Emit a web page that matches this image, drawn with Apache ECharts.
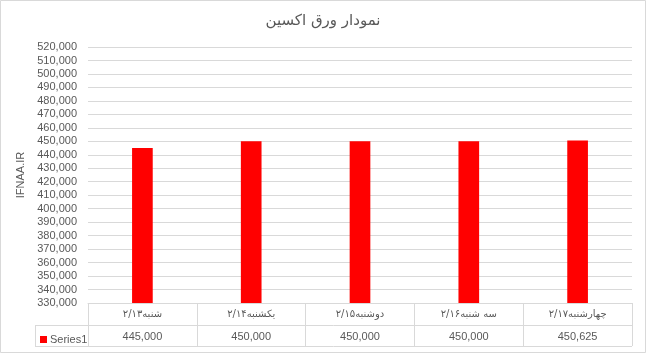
<!DOCTYPE html>
<html>
<head>
<meta charset="utf-8">
<script src="https://cdn.jsdelivr.net/npm/echarts@6/dist/echarts.min.js"></script>
<style>
html,body{margin:0;padding:0;background:#fff;}
#c{width:646px;height:353px;}
</style>
</head>
<body>
<div id="c"></div>
<script>
const titleText = 'نمودار ورق اکسین';
const axisName = 'IFNAA.IR';
const seriesName = 'Series1';
const categories = ['شنبه۲/۱۳', 'یکشنبه۲/۱۴', 'دوشنبه۲/۱۵', 'سه شنبه۲/۱۶', 'چهارشنبه۲/۱۷'];
const values = [445000, 450000, 450000, 450000, 450625];
const yMin = 330000, yMax = 520000, yStep = 10000;

const fmt = v => v.toLocaleString('en-US');
const grey = '#595959';
const lineC = '#d9d9d9';
const latin = '"Liberation Sans", Arial, sans-serif';
const arab = '"DejaVu Sans", sans-serif';

const chart = echarts.init(document.getElementById('c'), null, {renderer: 'canvas'});
chart.setOption({
  animation: false,
  backgroundColor: '#fff',
  title: {
    text: titleText, left: 'center', top: 9,
    textStyle: {fontFamily: arab, fontSize: 15, fontWeight: 'normal', color: grey}
  },
  legend: {
    data: [seriesName], left: 35, top: 329, icon: 'rect',
    itemWidth: 7, itemHeight: 7, itemGap: 3,
    textStyle: {fontFamily: latin, fontSize: 11, color: grey, padding: [0,0,0,-2]}
  },
  grid: {left: 88, right: 14, top: 47, bottom: 50, containLabel: false},
  xAxis: [{
    type: 'category', data: categories, position: 'bottom',
    axisLine: {show: true, lineStyle: {color: lineC}},
    axisTick: {show: true, length: 43, lineStyle: {color: lineC}},
    axisLabel: {fontFamily: arab, fontSize: 10, color: grey, margin: 6, interval: 0}
  }, {
    type: 'category', data: values.map(fmt), position: 'bottom', offset: 22,
    axisLine: {show: false}, axisTick: {show: false},
    axisLabel: {fontFamily: latin, fontSize: 11, color: grey, margin: 6, interval: 0}
  }],
  yAxis: {
    type: 'value', min: yMin, max: yMax, interval: yStep,
    name: axisName, nameLocation: 'middle', nameGap: 62, nameRotate: 90,
    nameTextStyle: {fontFamily: latin, fontSize: 11, color: grey},
    axisLine: {show: false}, axisTick: {show: false},
    axisLabel: {fontFamily: latin, fontSize: 11, color: grey, margin: 11, formatter: v => fmt(v)},
    splitLine: {lineStyle: {color: lineC}}
  },
  series: [{
    name: seriesName, type: 'bar', data: values, xAxisIndex: 0,
    barWidth: '19%', itemStyle: {color: '#ff0000'}
  }],
  graphic: [
    {type: 'line', shape: {x1: 35, y1: 325.5, x2: 632, y2: 325.5}, style: {stroke: lineC, lineWidth: 1}},
    {type: 'line', shape: {x1: 35, y1: 346.5, x2: 632, y2: 346.5}, style: {stroke: lineC, lineWidth: 1}},
    {type: 'line', shape: {x1: 35.5, y1: 325, x2: 35.5, y2: 347}, style: {stroke: lineC, lineWidth: 1}},
    {type: 'rect', shape: {x: 0.5, y: 0.5, width: 645, height: 352}, style: {fill: null, stroke: lineC, lineWidth: 1}, z: -1}
  ]
});
</script>
</body>
</html>
